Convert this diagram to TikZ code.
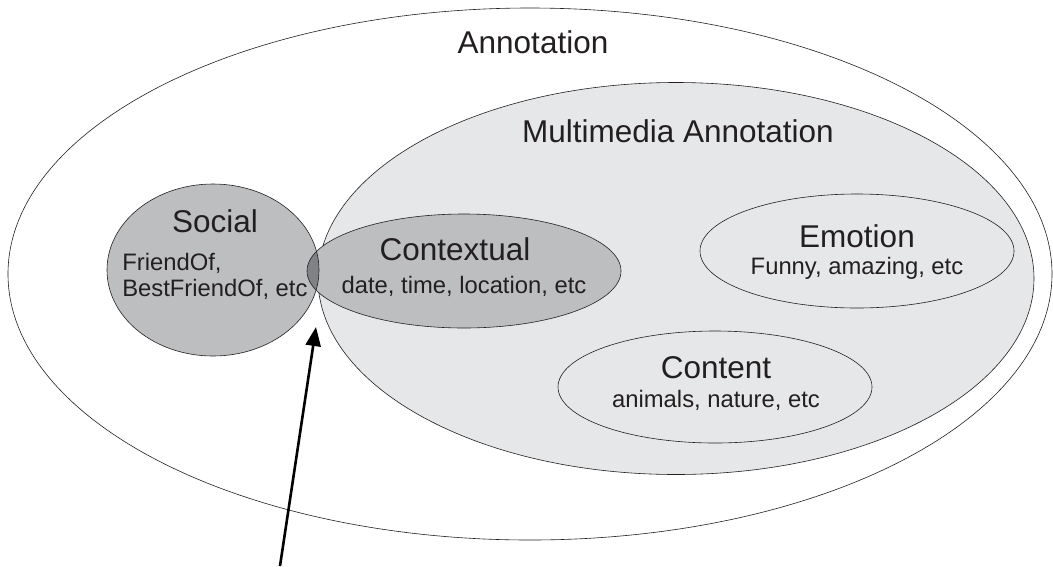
\documentclass[tikz,border=0pt]{standalone}
\usepackage{fontspec}
\setmainfont{Liberation Sans}
\usepackage{xcolor}
\usepackage{tikz}
\usetikzlibrary{arrows.meta}
\definecolor{inkgray}{RGB}{35,31,32}
\definecolor{lightfill}{RGB}{230,231,232}
\definecolor{midfill}{RGB}{188,190,192}
\definecolor{darkfill}{RGB}{128,130,133}
\tikzset{every picture/.style={line width=0.6pt}}
\tikzset{
  setline/.style={draw=inkgray},
  settitle/.style={text=inkgray,inner sep=0pt,anchor=base,font=\fontsize{31.5}{36}\selectfont},
  setsub/.style={text=inkgray,inner sep=0pt,anchor=base,font=\fontsize{23.8}{25.8}\selectfont},
}

\begin{document}
\begin{tikzpicture}[x=1pt,y=1pt,yscale=-1,xscale=1]
    \useasboundingbox (0,0) rectangle (1053,566);
    % outer and multimedia sets
    \draw [setline,fill=white] (530,274) ellipse [x radius=522,y radius=266];
    \draw [setline,fill=lightfill] (676,278.5) ellipse [x radius=358,y radius=196];
    % social and contextual, with their overlap
    \fill [midfill] (213,270) ellipse [x radius=106,y radius=86];
    \fill [midfill] (464,271) ellipse [x radius=157,y radius=57];
    \begin{scope}
      \clip (213,270) ellipse [x radius=106,y radius=86];
      \fill [darkfill] (464,271) ellipse [x radius=157,y radius=57];
    \end{scope}
    \draw [setline] (213,270) ellipse [x radius=106,y radius=86];
    \draw [setline] (464,271) ellipse [x radius=157,y radius=57];
    % emotion and content
    \draw [setline,fill=lightfill] (857,251) ellipse [x radius=157,y radius=57];
    \draw [setline,fill=lightfill] (715,387) ellipse [x radius=157,y radius=56];
    % labels
    \node [settitle] (annot) at (533,53) {Annotation};
    \node [settitle] (mmannot) at (678,142) {Multimedia Annotation};
    \node [settitle] (social) at (215,232) {Social};
    \node [setsub,anchor=base west,align=left] (socialsub) at (122,296) {FriendOf,\\BestFriendOf, etc};
    \node [settitle] (context) at (455,260) {Contextual};
    \node [setsub] (contextsub) at (464,293) {date, time, location, etc};
    \node [settitle] (emotion) at (857,247) {Emotion};
    \node [setsub] (emotionsub) at (857,274) {Funny, amazing, etc};
    \node [settitle] (content) at (716,378) {Content};
    \node [setsub] (contentsub) at (716,407) {animals, nature, etc};
    % pointer to where social meets multimedia
    \coordinate (tail) at (280,566);
    \coordinate (touch) at (316,327);
    \draw [draw=black,line width=2.6pt,-{Triangle[length=19pt,width=15pt]}] (tail) -- (touch);
\end{tikzpicture}
\end{document}
